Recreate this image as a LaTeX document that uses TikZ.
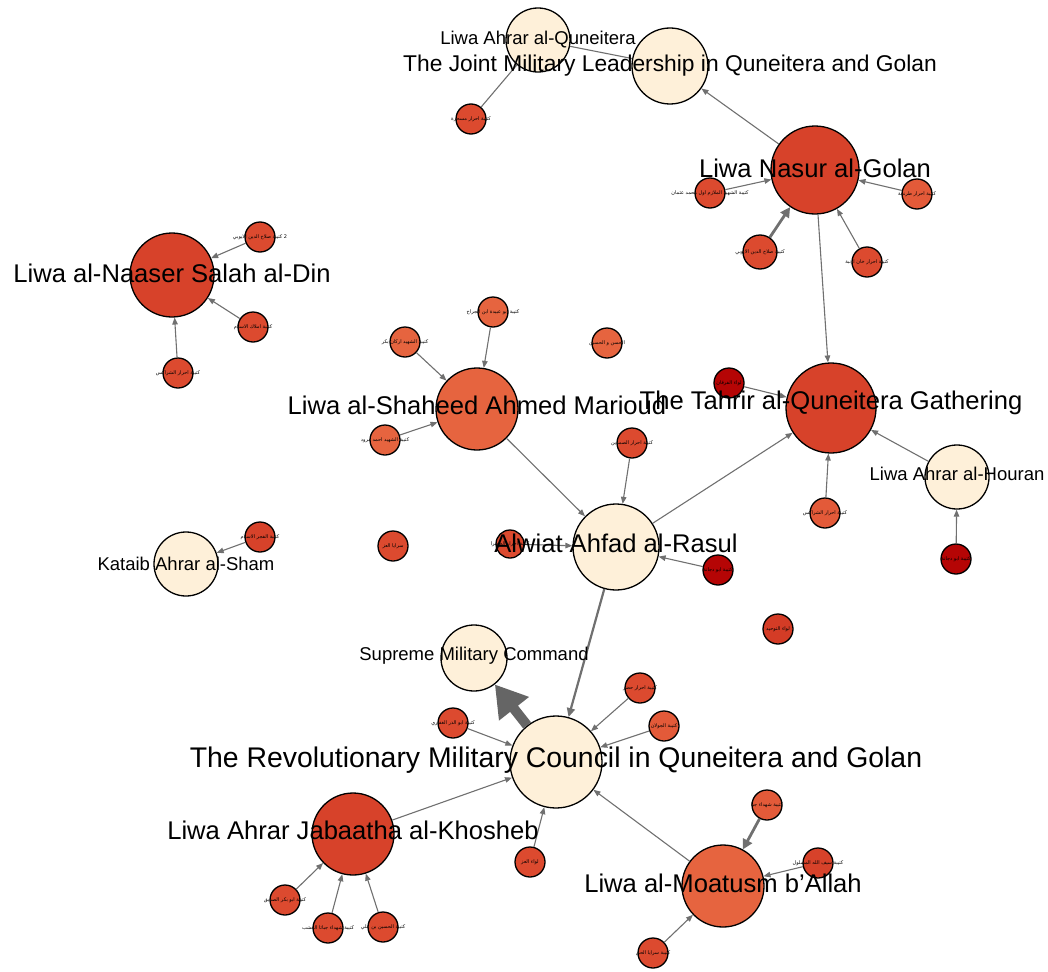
\documentclass[tikz,border=0pt]{standalone}
\usepackage{fontspec}
\setmainfont{Liberation Sans}
\newfontfamily\arabicfont[Script=Arabic]{DejaVu Sans}
\TeXXeTstate=1
\usetikzlibrary{arrows.meta}
\definecolor{nodecream}{HTML}{FEF0D9}
\definecolor{nodered}{HTML}{D7422A}
\definecolor{nodeorange}{HTML}{E6643F}
\definecolor{nodesat}{HTML}{DC4A2F}
\definecolor{nodelight}{HTML}{E35A39}
\definecolor{nodedark}{HTML}{B50505}
\definecolor{edgegray}{HTML}{707070}
\newcommand{\artxt}[1]{{\arabicfont\beginR #1\endR}}

\begin{document}
\begin{tikzpicture}[x=1pt,y=-1pt,
    vert/.style={circle,draw=black,line width=1.3pt,inner sep=0pt},
    sat/.style={vert,fill=nodesat,minimum size=30pt},
    link/.style={draw=edgegray,line width=1.1pt,-{Triangle[length=7pt,width=5.5pt]}},
    plain/.style={draw=edgegray,line width=1.1pt},
    heavy/.style={draw=edgegray,line width=2.8pt,-{Triangle[length=10pt,width=10pt]}},
    lblbig/.style={font=\fontsize{25.6}{30}\selectfont,inner sep=0pt},
    lblmid/.style={font=\fontsize{22.8}{27}\selectfont,inner sep=0pt},
    lblsmall/.style={font=\fontsize{18.5}{22}\selectfont,inner sep=0pt},
    lblar/.style={font=\fontsize{5}{6}\selectfont,inner sep=0pt}]
    \useasboundingbox (0,0) rectangle (1048,971);
    \node[vert,fill=nodecream,minimum size=64pt] (ahrarq) at (538,40) {};
    \node[vert,fill=nodecream,minimum size=76pt] (joint) at (670,66) {};
    \node[sat] (musahara) at (471,119) {};
    \node[vert,fill=nodered,minimum size=88pt] (nasur) at (815,170) {};
    \node[sat] (uthman) at (710,193) {};
    \node[sat,minimum size=34pt] (ayyubi) at (760,252) {};
    \node[sat,fill=nodelight] (tarnaja) at (917,194) {};
    \node[sat] (arnaba) at (867,262) {};
    \node[vert,fill=nodered,minimum size=84pt] (naaser) at (172,275) {};
    \node[sat] (ayyubitwo) at (260,237) {};
    \node[sat] (amlak) at (253,327) {};
    \node[sat] (sharakis) at (178,373) {};
    \node[vert,fill=nodeorange,minimum size=82pt] (marioud) at (477,409) {};
    \node[sat,fill=nodeorange] (abuubaida) at (493,312) {};
    \node[sat,fill=nodeorange] (arkan) at (405,342) {};
    \node[sat,fill=nodeorange] (maroud) at (385,440) {};
    \node[sat,fill=nodeorange] (hassan) at (607,343) {};
    \node[sat] (samadin) at (632,443) {};
    \node[vert,fill=nodered,minimum size=90pt] (tahrir) at (831,408) {};
    \node[sat,fill=nodedark] (furqan) at (729,383) {};
    \node[sat,fill=nodelight] (sharakistwo) at (825,513) {};
    \node[vert,fill=nodecream,minimum size=64pt] (houran) at (957,477) {};
    \node[sat,fill=nodedark] (dujanatwo) at (956,559) {};
    \node[vert,fill=nodecream,minimum size=86pt] (alwiat) at (616,547) {};
    \node[sat,fill=nodedark] (dujana) at (718,570) {};
    \node[sat,fill=nodered!90!nodedark] (tawhid) at (778,629) {};
    \node[sat,minimum size=28pt] (badr) at (510,544) {};
    \node[sat] (izz) at (393,546) {};
    \node[sat,fill=nodered] (fajr) at (260,537) {};
    \node[vert,fill=nodecream,minimum size=64pt] (kataib) at (186,564) {};
    \node[vert,fill=nodecream,minimum size=66pt] (smc) at (474,658) {};
    \node[vert,fill=nodecream,minimum size=92pt] (rmc) at (556,762) {};
    \node[sat] (abudharr) at (453,723) {};
    \node[sat] (hadar) at (640,688) {};
    \node[sat,fill=nodelight] (jolan) at (664,726) {};
    \node[sat] (liwaizz) at (530,862) {};
    \node[vert,fill=nodered,minimum size=82pt] (jabaatha) at (353,834) {};
    \node[sat] (abubakr) at (285,900) {};
    \node[sat] (shuhadajab) at (328,928) {};
    \node[sat] (hussein) at (383,927) {};
    \node[vert,fill=nodeorange,minimum size=82pt] (moatusm) at (723,886) {};
    \node[sat,fill=nodelight] (jaba) at (767,805) {};
    \node[sat,fill=nodered] (sayf) at (818,863) {};
    \node[sat] (haq) at (653,953) {};
    \draw[plain] (musahara) -- (ahrarq);
    \draw[plain] (ahrarq) -- (joint);
    \draw[link] (nasur) -- (joint);
    \draw[link] (uthman) -- (nasur);
    \draw[heavy] (ayyubi) -- (nasur);
    \draw[link] (tarnaja) -- (nasur);
    \draw[link] (arnaba) -- (nasur);
    \draw[link] (nasur) -- (tahrir);
    \draw[link] (ayyubitwo) -- (naaser);
    \draw[link] (amlak) -- (naaser);
    \draw[link] (sharakis) -- (naaser);
    \draw[link] (abuubaida) -- (marioud);
    \draw[link] (arkan) -- (marioud);
    \draw[link] (maroud) -- (marioud);
    \draw[link] (marioud) -- (alwiat);
    \draw[link] (samadin) -- (alwiat);
    \draw[link] (alwiat) -- (tahrir);
    \draw[link] (furqan) -- (tahrir);
    \draw[link] (sharakistwo) -- (tahrir);
    \draw[link] (houran) -- (tahrir);
    \draw[link] (dujanatwo) -- (houran);
    \draw[link] (dujana) -- (alwiat);
    \draw[link] (badr) -- (alwiat);
    \draw[link] (fajr) -- (kataib);
    \draw[draw=edgegray,line width=2.2pt,-{Triangle[length=9pt,width=8pt]}] (alwiat) -- (rmc);
    \draw[draw=edgegray!90!black,line width=10pt,-{Triangle[length=31pt,width=36pt]}] (rmc) -- (smc);
    \draw[link] (abudharr) -- (rmc);
    \draw[link] (hadar) -- (rmc);
    \draw[link] (jolan) -- (rmc);
    \draw[link] (liwaizz) -- (rmc);
    \draw[link] (jabaatha) -- (rmc);
    \draw[link] (moatusm) -- (rmc);
    \draw[link] (abubakr) -- (jabaatha);
    \draw[link] (shuhadajab) -- (jabaatha);
    \draw[link] (hussein) -- (jabaatha);
    \draw[heavy] (jaba) -- (moatusm);
    \draw[link] (sayf) -- (moatusm);
    \draw[link] (haq) -- (moatusm);
    \node[lblar] (musahara-t) at (musahara) {\artxt{كتيبة احرار مسحرة}};
    \node[lblar] (uthman-t) at (uthman) {\artxt{كتيبة الشهيد الملازم اول محمد عثمان}};
    \node[lblar] (ayyubi-t) at (ayyubi) {\artxt{كتيبة صلاح الدين الايوبي}};
    \node[lblar] (tarnaja-t) at (tarnaja) {\artxt{كتيبة احرار طرنجة}};
    \node[lblar] (arnaba-t) at (arnaba) {\artxt{كتيبة احرار خان ارنبة}};
    \node[lblar] (ayyubitwo-t) at (ayyubitwo) {\artxt{2 كتيبة صلاح الدين الايوبي}};
    \node[lblar] (amlak-t) at (amlak) {\artxt{كتيبة املاك الاسلام}};
    \node[lblar] (sharakis-t) at (sharakis) {\artxt{كتيبة احرار الشراكس}};
    \node[lblar] (abuubaida-t) at (abuubaida) {\artxt{كتيبة ابو عبيدة ابن الجراح}};
    \node[lblar] (arkan-t) at (arkan) {\artxt{كتيبة الشهيد اركان بكر}};
    \node[lblar] (maroud-t) at (maroud) {\artxt{كتيبة الشهيد احمد مرود}};
    \node[lblar] (hassan-t) at (hassan) {\artxt{الحسن و الحسين}};
    \node[lblar] (samadin-t) at (samadin) {\artxt{كتيبة احرار الصمدين}};
    \node[lblar] (furqan-t) at (furqan) {\artxt{لواء الفرقان}};
    \node[lblar] (sharakistwo-t) at (sharakistwo) {\artxt{كتيبة احرار الشراكس}};
    \node[lblar] (dujanatwo-t) at (dujanatwo) {\artxt{كتيبة ابو دجانة}};
    \node[lblar] (dujana-t) at (dujana) {\artxt{كتيبة ابو دجانة}};
    \node[lblar] (tawhid-t) at (tawhid) {\artxt{لواء التوحيد}};
    \node[lblar] (badr-t) at (badr) {\artxt{كتيبة احرار الخضرا}};
    \node[lblar] (izz-t) at (izz) {\artxt{سرايا العز}};
    \node[lblar] (fajr-t) at (fajr) {\artxt{كتيبة الفجر الاسلام}};
    \node[lblar] (abudharr-t) at (abudharr) {\artxt{كتيبة ابو الذر الغفاري}};
    \node[lblar] (hadar-t) at (hadar) {\artxt{كتيبة احرار حضر}};
    \node[lblar] (jolan-t) at (jolan) {\artxt{كتيبة الجولان}};
    \node[lblar] (liwaizz-t) at (liwaizz) {\artxt{لواء العز}};
    \node[lblar] (abubakr-t) at (abubakr) {\artxt{كتيبة ابو بكر الصديق}};
    \node[lblar] (shuhadajab-t) at (shuhadajab) {\artxt{كتيبة شهداء جباثا الخشب}};
    \node[lblar] (hussein-t) at (hussein) {\artxt{كتيبة الحسين بن علي}};
    \node[lblar] (jaba-t) at (jaba) {\artxt{كتيبة شهداء جبا}};
    \node[lblar] (sayf-t) at (sayf) {\artxt{كتيبة سيف الله المسلول}};
    \node[lblar] (haq-t) at (haq) {\artxt{كتيبة سرايا الحق}};
    \node[lblsmall] (ahrarq-t) at (ahrarq) {Liwa Ahrar al-Quneitera};
    \node[lblmid] (joint-t) at (joint) {The Joint Military Leadership in Quneitera and Golan};
    \node[lblbig] (nasur-t) at ([yshift=2pt]nasur) {Liwa Nasur al-Golan};
    \node[lblbig] (naaser-t) at ([yshift=2pt]naaser) {Liwa al-Naaser Salah al-Din};
    \node[lblbig] (marioud-t) at ([yshift=4pt]marioud) {Liwa al-Shaheed Ahmed Marioud};
    \node[lblbig] (tahrir-t) at ([yshift=5pt]tahrir) {The Tahrir al-Quneitera Gathering};
    \node[lblsmall] (houran-t) at ([yshift=3pt]houran) {Liwa Ahrar al-Houran};
    \node[lblbig] (alwiat-t) at ([yshift=4pt]alwiat) {Alwiat Ahfad al-Rasul};
    \node[lblsmall] (kataib-t) at (kataib) {Kataib Ahrar al-Sham};
    \node[lblsmall] (smc-t) at ([yshift=2pt]smc) {Supreme Military Command};
    \node[font=\fontsize{28.4}{33}\selectfont,inner sep=0pt] (rmc-t) at ([yshift=2pt]rmc) {The Revolutionary Military Council in Quneitera and Golan};
    \node[lblbig] (jabaatha-t) at ([yshift=4pt]jabaatha) {Liwa Ahrar Jabaatha al-Khosheb};
    \node[lblbig] (moatusm-t) at ([yshift=3pt]moatusm) {Liwa al-Moatusm b'Allah};
\end{tikzpicture}
\end{document}
